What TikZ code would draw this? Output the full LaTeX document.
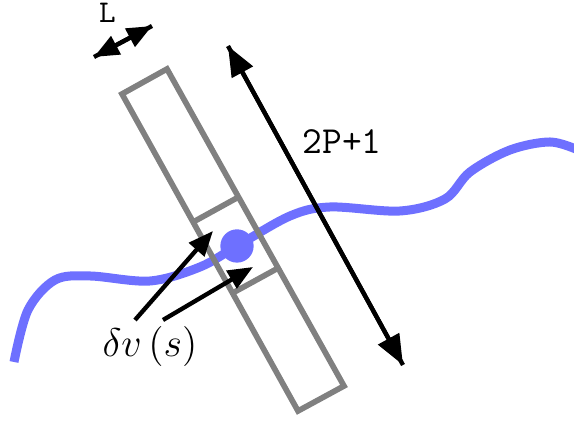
\documentclass[tikz,border=0pt]{standalone}
\usetikzlibrary{arrows.meta,calc}
\definecolor{curveblue}{RGB}{110,112,255}
\begin{document}
\begin{tikzpicture}[x=0.3pt,y=-0.3pt,
  frame/.style={draw=gray,line width=1.7pt},
  blk/.style={line width=1.3pt},
  bigtip/.style={-{Triangle[length=9pt,width=7pt]}},
  smalltip/.style={-{Triangle[length=7.5pt,width=6pt]}},
  ttlabel/.style={font=\fontsize{11.5}{13}\selectfont\ttfamily,anchor=base,inner sep=0pt}]
\useasboundingbox (0,0) rectangle (574,425);
% the path
\draw[curveblue,line width=2.7pt] plot[smooth,tension=0.55] coordinates
  {(14,362) (28,310) (55,280) (90,276) (150,281) (200,267) (237,246) (290,216)
   (330,207) (400,211) (445,199) (470,172) (510,150) (550,142) (578,150)};
% the window
\coordinate (A) at (122,94);
\coordinate (B) at (167,69);
\coordinate (C) at (344,386);
\coordinate (D) at (298,411);
\draw[frame] (A) -- (B) -- (C) -- (D) -- cycle;
\draw[frame] ($(A)!0.404!(D)$) -- ($(B)!0.404!(C)$);
\draw[frame] ($(A)!0.628!(D)$) -- ($(B)!0.628!(C)$);
\node[circle,fill=curveblue,minimum size=10pt,inner sep=0pt] (pt) at (237,246) {};
% sizes
\coordinate (Ltop) at (152,26);
\coordinate (Lbot) at (94,57);
\draw[blk,smalltip] (Lbot) -- (Ltop);
\draw[blk,smalltip] (Ltop) -- (Lbot);
\node[ttlabel,font=\fontsize{9.5}{11}\selectfont\ttfamily] (L) at (107.5,22.5) {L};
\coordinate (Ptop) at (228,46);
\coordinate (Pbot) at (403,365);
\draw[blk,bigtip] (Ptop) -- (Pbot);
\draw[blk,bigtip] (Pbot) -- (Ptop);
\node[ttlabel] (P) at (342,154) {2P+1};
% labels
\node[anchor=base,inner sep=0pt,font=\fontsize{12.5}{15}\selectfont] (dv) at (150,357) {$\delta v\left(s\right)$};
\coordinate (dv1) at (135,320);
\coordinate (dv2) at (163,320);
\coordinate (in1) at (213,231);
\coordinate (in2) at (253,267);
\draw[blk,smalltip] (dv1) -- (in1);
\draw[blk,smalltip] (dv2) -- (in2);
\end{tikzpicture}
\end{document}
